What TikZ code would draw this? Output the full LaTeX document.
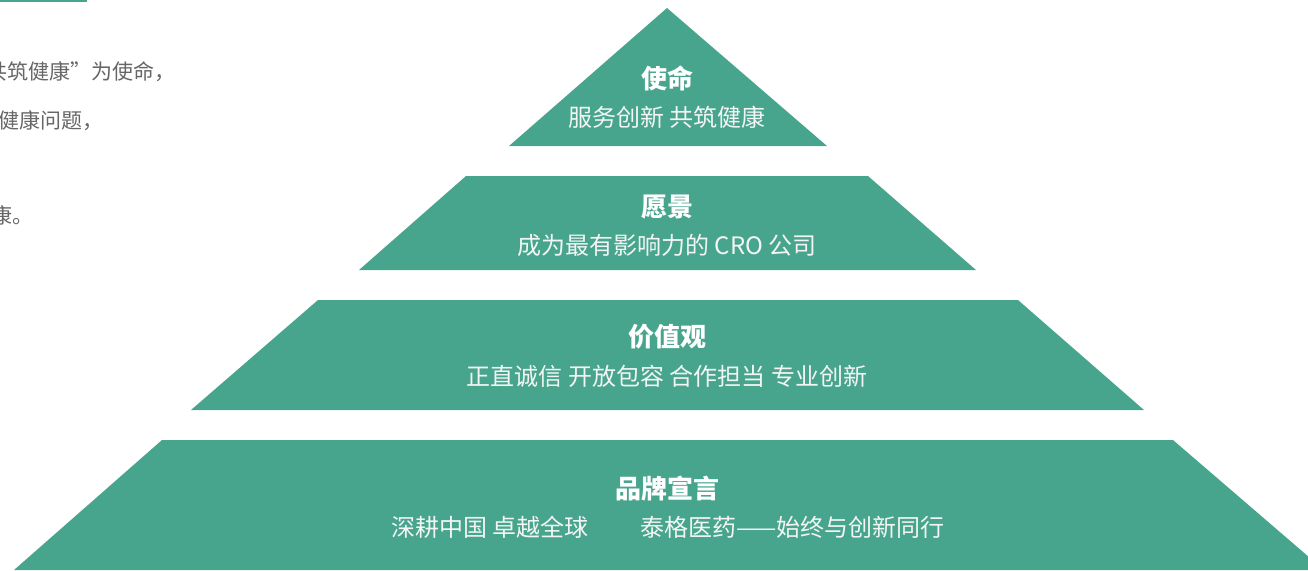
\documentclass[tikz,border=0pt]{standalone}
\usepackage{fontspec}
\newfontfamily\cjk{Noto Sans CJK SC}
\definecolor{teal1}{HTML}{48A58D}
\definecolor{sub}{HTML}{F2F5F4}
\definecolor{grayt}{HTML}{666666}
\tikzset{
  tier/.style={fill=teal1, draw=none},
  ttl/.style={font=\cjk\bfseries\fontsize{13}{15}\selectfont, text=white, inner sep=0pt},
  subt/.style={font=\cjk\fontsize{12}{14}\selectfont, text=sub, inner sep=0pt},
  lefttxt/.style={font=\cjk\fontsize{10.5}{12}\selectfont, text=grayt, inner sep=0pt, anchor=east}
}
\begin{document}
\begin{tikzpicture}[x=0.5pt,y=-0.5pt]
\useasboundingbox (0,0) rectangle (1308,570);
\clip (0,0) rectangle (1308,570);
% top-left accent line
\fill[teal1] (0,0) rectangle (87,2);
% left paragraph (clipped)
\node[lefttxt] (l1) at (176,72) {共筑健康”为使命，};
\node[lefttxt] (l2) at (104,121) {健康问题，};
\node[lefttxt] (l3) at (34,215) {康。};
% pyramid tiers
\path[tier] (667,8) -- (827,146) -- (509,146) -- cycle;
\path[tier] (466,176) -- (868,176) -- (976,270) -- (359,270) -- cycle;
\path[tier] (318,300) -- (1018,300) -- (1144,410) -- (191,410) -- cycle;
\path[tier] (162,440) -- (1173,440) -- (1324,570) -- (14,570) -- cycle;
% texts
\node[ttl] (t1) at (667,78) {使命};
\node[subt] (s1) at (667,117) {服务创新 共筑健康};
\node[ttl] (t2) at (667,207) {愿景};
\node[subt] (s2) at (667,245) {成为最有影响力的 CRO 公司};
\node[ttl] (t3) at (667,337) {价值观};
\node[subt] (s3) at (667,376) {正直诚信 开放包容 合作担当 专业创新};
\node[ttl] (t4) at (667,489) {品牌宣言};
\node[subt] (s4) at (668,527) {深耕中国 卓越全球\hspace{26pt}泰格医药——始终与创新同行};
\end{tikzpicture}
\end{document}
